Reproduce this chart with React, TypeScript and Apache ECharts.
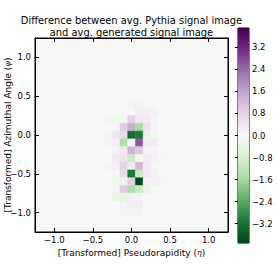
import React, { useEffect, useRef } from 'react';
import * as echarts from 'echarts';

// Pixel centres (eta columns, phi rows) of the non-background region
const etaCols = [-0.3, -0.2, -0.1, 0.0, 0.1, 0.2, 0.3, 0.4];
const phiRows = [0.4, 0.3, 0.2, 0.1, 0.0, -0.1, -0.2, -0.3, -0.4, -0.5, -0.6, -0.7, -0.8, -0.9, -1.0];
// Difference values, one row per phi, one column per eta
const diffValues = [
  [0, 0, 0, 0.1, 0.1, 0, 0, 0],
  [0, 0, 0, 0, 0.2, 0.2, 0.15, 0],
  [-0.15, -0.15, 0, 0.8, 0.35, 0.3, 0.1, 0],
  [0, 0.1, 0.9, 1.4, -1.5, 0.5, 0.1, 0],
  [0.1, 0.4, 0.6, -3.3, -3.1, -0.4, -0.1, 0],
  [-0.1, 0.2, -1.4, 0, 2.6, 0.3, 0.25, 0],
  [0, 0.1, 0.3, 1.3, 1.0, 0.1, 0.1, 0],
  [0, 0.3, 0.45, -1.0, -0.1, 0.25, 0.15, -0.1],
  [0.1, 0.2, 0.8, 0.25, 1.3, 0.3, -0.1, 0],
  [0, -0.1, 0.6, -3.1, -1.0, 0.35, 0.15, 0],
  [0, -0.2, -0.3, 0.8, -3.8, 0.1, 0.15, 0.1],
  [0, -0.1, 0.9, -1.45, -1.0, -0.35, 0, 0],
  [0, -0.35, -0.4, 0.2, 0.1, 0, 0, 0],
  [0, 0, 0.1, 0.25, 0.25, 0, 0, 0],
  [0, 0, 0.1, 0.1, 0.1, 0, 0, 0],
];
const pixelSize = 0.1;
const axisMin = -1.25;
const axisMax = 1.25;
const axisTicks = [-1.0, -0.5, 0.0, 0.5, 1.0];
const colorMin = -3.9;
const colorMax = 3.9;
const colorTicks = [-3.2, -2.4, -1.6, -0.8, 0.0, 0.8, 1.6, 2.4, 3.2];
// PRGn reversed: low (green) -> high (purple)
const cmap = ['#00441b', '#1b7837', '#5aae61', '#a6dba0', '#d9f0d3', '#f7f7f7', '#e7d4e8', '#c2a5cf', '#9970ab', '#762a83', '#40004b'];

const titleText = 'Difference between avg. Pythia signal image\nand avg. generated signal image';
const FONT = 'DejaVu Sans';

const fmt = (v: number) => {
  const s = Number(v).toFixed(1);
  return s.startsWith('-') ? '\u2212' + s.slice(1) : s;
};

export default function App() {
  const ref = useRef<HTMLDivElement>(null);
  useEffect(() => {
    if (!ref.current) return;
    const chart = echarts.init(ref.current, undefined, { renderer: 'svg' });
    const data: number[][] = [];
    phiRows.forEach((phi, r) => {
      etaCols.forEach((eta, c) => {
        data.push([eta, phi, diffValues[r][c]]);
      });
    });
    const left = 35, top = 38, w = 193, h = 194;
    const cbLeft = 238, cbTop = 28, cbW = 11, cbH = 215;
    const tickStyle = { show: true, inside: true, length: 4, lineStyle: { color: '#000', width: 1 } };
    const mainAxis = (extra: any) => ({
      type: 'value',
      min: axisMin,
      max: axisMax,
      gridIndex: 0,
      splitLine: { show: false },
      axisLine: { show: true, onZero: false, lineStyle: { color: '#000', width: 1 } },
      axisTick: { ...tickStyle, customValues: axisTicks },
      ...extra,
    });
    const labelStyle = { color: '#000', fontSize: 8.5, fontFamily: FONT, formatter: fmt, customValues: axisTicks };
    chart.setOption({
      animation: false,
      backgroundColor: '#fff',
      textStyle: { fontFamily: FONT },
      grid: [
        { left, top, width: w, height: h, outerBoundsMode: 'none', containLabel: false, show: true, backgroundColor: '#f7f7f7', borderColor: '#000', borderWidth: 1 },
        { left: cbLeft, top: cbTop, width: cbW, height: cbH, outerBoundsMode: 'none', containLabel: false, show: true, backgroundColor: 'transparent', borderColor: '#000', borderWidth: 1 },
      ],
      xAxis: [
        mainAxis({
          position: 'bottom',
          axisLabel: { ...labelStyle, margin: 3 },
          name: '[Transformed] Pseudorapidity ({i|\u03b7})',
          nameLocation: 'middle',
          nameGap: 16,
          nameMoveOverlap: false,
          nameTextStyle: { color: '#000', fontSize: 9, fontFamily: FONT, rich: { i: { fontStyle: 'italic', fontSize: 8, fontFamily: 'DejaVu Serif' } } },
        }),
        mainAxis({ position: 'top', axisLabel: { show: false } }),
        { type: 'value', gridIndex: 1, min: 0, max: 1, show: false },
      ],
      yAxis: [
        mainAxis({
          position: 'left',
          axisLabel: { ...labelStyle, margin: 4 },
          name: '[Transformed] Azimuthal Angle ({i|\u03c6})',
          nameLocation: 'middle',
          nameGap: 23,
          nameMoveOverlap: false,
          nameTextStyle: { color: '#000', fontSize: 9, fontFamily: FONT, rich: { i: { fontStyle: 'italic', fontSize: 8, fontFamily: 'DejaVu Serif' } } },
        }),
        mainAxis({ position: 'right', axisLabel: { show: false } }),
        {
          type: 'value',
          gridIndex: 1,
          position: 'right',
          min: colorMin,
          max: colorMax,
          splitLine: { show: false },
          axisLine: { show: false },
          axisTick: { show: true, inside: true, length: 3, lineStyle: { color: '#000', width: 1 }, customValues: colorTicks },
          axisLabel: { color: '#000', fontSize: 8.5, fontFamily: FONT, formatter: fmt, customValues: colorTicks, margin: 3 },
        },
      ],
      visualMap: {
        type: 'continuous',
        show: false,
        min: colorMin,
        max: colorMax,
        dimension: 2,
        seriesIndex: 0,
        inRange: { color: cmap },
      },
      graphic: [
        {
          type: 'text',
          style: {
            text: titleText,
            x: left + w / 2,
            y: 15,
            align: 'center',
            verticalAlign: 'top',
            fill: '#000',
            fontSize: 9.9,
            fontFamily: FONT,
            lineHeight: 11.5,
          },
        },
      ],
      series: [
        {
          type: 'custom',
          xAxisIndex: 0,
          yAxisIndex: 0,
          data,
          renderItem: (params: any, api: any) => {
            const x = api.value(0), y = api.value(1);
            const p1 = api.coord([x - pixelSize / 2, y + pixelSize / 2]);
            const p2 = api.coord([x + pixelSize / 2, y - pixelSize / 2]);
            const c = api.visual('color');
            return {
              type: 'rect',
              shape: { x: p1[0], y: p1[1], width: p2[0] - p1[0], height: p2[1] - p1[1] },
              style: { fill: c, stroke: c, lineWidth: 0.4 },
            };
          },
        },
        {
          type: 'custom',
          xAxisIndex: 2,
          yAxisIndex: 2,
          data: [[0, colorMax, 1, colorMin]],
          renderItem: (params: any, api: any) => {
            const p1 = api.coord([api.value(0), api.value(1)]);
            const p2 = api.coord([api.value(2), api.value(3)]);
            const stops = cmap.slice().reverse().map((col, i) => ({ offset: i / (cmap.length - 1), color: col }));
            return {
              type: 'rect',
              shape: { x: p1[0], y: p1[1], width: p2[0] - p1[0], height: p2[1] - p1[1] },
              style: { fill: new echarts.graphic.LinearGradient(0, 0, 0, 1, stops) },
            };
          },
        },
      ],
    });
    return () => chart.dispose();
  }, []);
  return <div ref={ref} style={{ position: 'absolute', left: 0, top: 0, width: 277, height: 277 }} />;
}
